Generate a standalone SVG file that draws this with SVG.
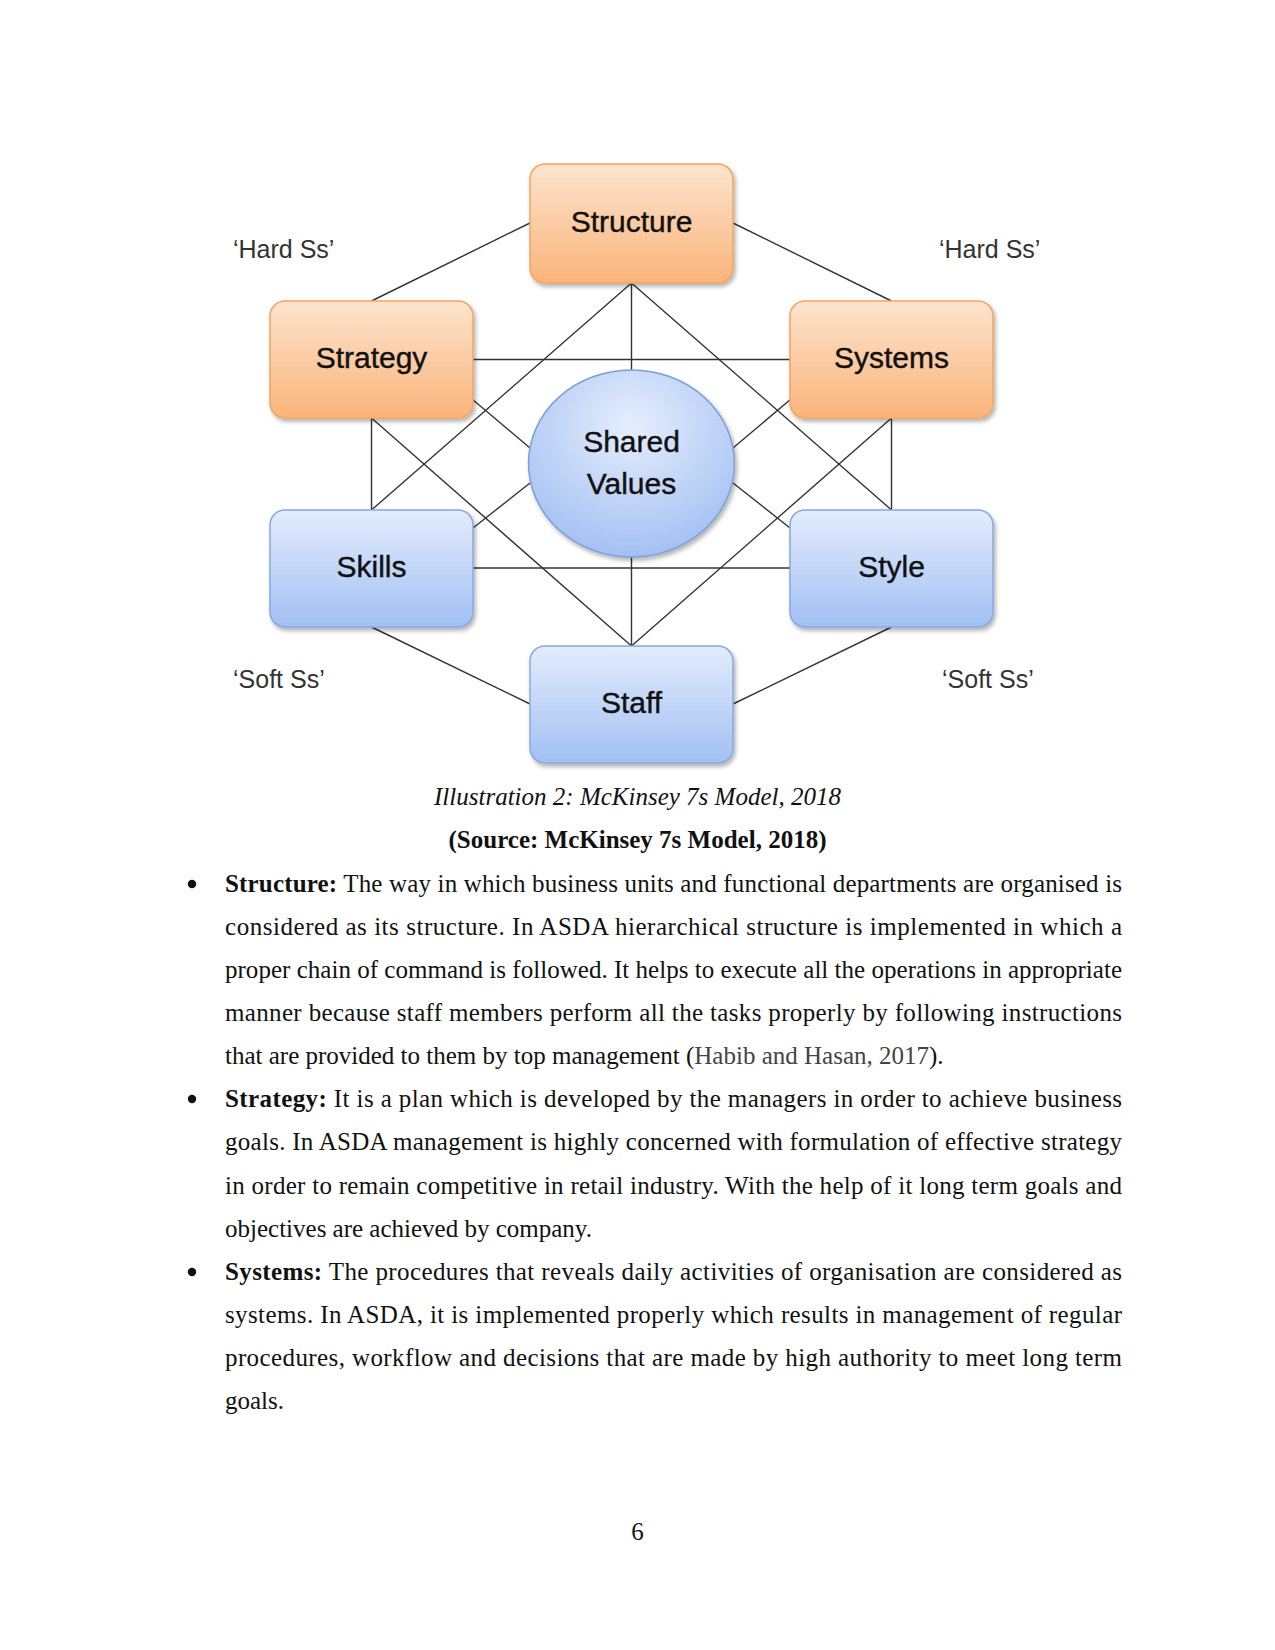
<svg xmlns="http://www.w3.org/2000/svg" width="1275" height="1650" viewBox="0 0 1275 1650">
<defs>
<linearGradient id="gOrange" x1="0" y1="0" x2="0" y2="1">
<stop offset="0" stop-color="#fde4cf"/>
<stop offset="1" stop-color="#fab47a"/>
</linearGradient>
<linearGradient id="gBlue" x1="0" y1="0" x2="0" y2="1">
<stop offset="0" stop-color="#e3ecfc"/>
<stop offset="1" stop-color="#a2c0f4"/>
</linearGradient>
<radialGradient id="gCircle" cx="0.5" cy="0.3" r="0.75">
<stop offset="0" stop-color="#e6eefd"/>
<stop offset="1" stop-color="#9fbdf2"/>
</radialGradient>
<filter id="shadow" x="-10%" y="-10%" width="125%" height="130%">
<feDropShadow dx="2" dy="3" stdDeviation="2" flood-color="#000" flood-opacity="0.3"/>
</filter>
<style>
.conn line { stroke: #333; stroke-width: 1.4; }
.orange { fill: url(#gOrange); stroke: #f4a55e; stroke-width: 1.5; filter: url(#shadow); }
.blue { fill: url(#gBlue); stroke: #86a8e6; stroke-width: 1.5; filter: url(#shadow); }
.lbl { font-family: "Liberation Sans", Arial, sans-serif; font-size: 30px; fill: #111; stroke: #111; stroke-width: 0.4; text-anchor: middle; }
.side { font-family: "Liberation Sans", Arial, sans-serif; font-size: 25px; fill: #333; }
.body { font-family: "Liberation Serif", "Times New Roman", serif; font-size: 25px; fill: #111; }
.b { font-weight: bold; }
</style>
</defs>
<rect width="1275" height="1650" fill="#fff"/>

<g id="connectors" class="conn">
<line x1="472" y1="399" x2="530" y2="448"/>
<line x1="791" y1="399" x2="733" y2="448"/>
<line x1="473" y1="528" x2="530" y2="483"/>
<line x1="790" y1="528" x2="733" y2="483"/>
<line x1="530" y1="223" x2="371.5" y2="301"/>
<line x1="733" y1="223" x2="891.5" y2="301"/>
<line x1="371.5" y1="627" x2="530" y2="704"/>
<line x1="891.5" y1="627" x2="733" y2="704"/>
<line x1="473" y1="359.5" x2="790" y2="359.5"/>
<line x1="473" y1="568" x2="790" y2="568"/>
<line x1="631.5" y1="283" x2="631.5" y2="646"/>
<line x1="371.5" y1="418" x2="371.5" y2="510"/>
<line x1="891.5" y1="418" x2="891.5" y2="510"/>
<line x1="631.5" y1="283" x2="371.5" y2="510"/>
<line x1="631.5" y1="283" x2="891.5" y2="510"/>
<line x1="371.5" y1="418" x2="631.5" y2="646"/>
<line x1="891.5" y1="418" x2="631.5" y2="646"/>
</g>

<g id="structure">
<rect class="orange" x="530" y="164" width="203" height="119" rx="15"/>
<text class="lbl" x="631.5" y="232">Structure</text>
</g>
<g id="strategy">
<rect class="orange" x="270" y="301" width="203" height="117" rx="15"/>
<text class="lbl" x="371.5" y="368">Strategy</text>
</g>
<g id="systems">
<rect class="orange" x="790" y="301" width="203" height="117" rx="15"/>
<text class="lbl" x="891.5" y="368">Systems</text>
</g>
<g id="shared-values">
<ellipse cx="631.5" cy="463.5" rx="103" ry="93.5" fill="url(#gCircle)" stroke="#7f9fd8" stroke-width="1.5" filter="url(#shadow)"/>
<text class="lbl" x="631.5" y="452">Shared</text>
<text class="lbl" x="631.5" y="494">Values</text>
</g>
<g id="skills">
<rect class="blue" x="270" y="510" width="203" height="117" rx="15"/>
<text class="lbl" x="371.5" y="577">Skills</text>
</g>
<g id="style">
<rect class="blue" x="790" y="510" width="203" height="117" rx="15"/>
<text class="lbl" x="891.5" y="577">Style</text>
</g>
<g id="staff">
<rect class="blue" x="530" y="646" width="203" height="117" rx="15"/>
<text class="lbl" x="631.5" y="713">Staff</text>
</g>

<g id="labels">
<text class="side" x="233" y="258">‘Hard Ss’</text>
<text class="side" x="939" y="258">‘Hard Ss’</text>
<text class="side" x="233" y="688">‘Soft Ss’</text>
<text class="side" x="942" y="688">‘Soft Ss’</text>
</g>

<g id="caption">
<text class="body" x="637.5" y="805" text-anchor="middle" font-style="italic">Illustration 2: McKinsey 7s Model, 2018</text>
<text class="body b" x="637.5" y="848" text-anchor="middle">(Source: McKinsey 7s Model, 2018)</text>
</g>

<g id="body-text">
<circle cx="192" cy="884" r="4.2" fill="#111"/>
<circle cx="192" cy="1099" r="4.2" fill="#111"/>
<circle cx="192" cy="1272" r="4.2" fill="#111"/>
<text class="body" x="225" y="892" textLength="897" lengthAdjust="spacing"><tspan class="b">Structure:</tspan> The way in which business units and functional departments are organised is</text>
<text class="body" x="225" y="935" textLength="897" lengthAdjust="spacing">considered as its structure. In ASDA hierarchical structure is implemented in which a</text>
<text class="body" x="225" y="978" textLength="897" lengthAdjust="spacing">proper chain of command is followed. It helps to execute all the operations in appropriate</text>
<text class="body" x="225" y="1021" textLength="897" lengthAdjust="spacing">manner because staff members perform all the tasks properly by following instructions</text>
<text class="body" x="225" y="1064">that are provided to them by top management (<tspan fill="#444">Habib and Hasan, 2017</tspan>).</text>
<text class="body" x="225" y="1107" textLength="897" lengthAdjust="spacing"><tspan class="b">Strategy:</tspan> It is a plan which is developed by the managers in order to achieve business</text>
<text class="body" x="225" y="1150" textLength="897" lengthAdjust="spacing">goals. In ASDA management is highly concerned with formulation of effective strategy</text>
<text class="body" x="225" y="1194" textLength="897" lengthAdjust="spacing">in order to remain competitive in retail industry. With the help of it long term goals and</text>
<text class="body" x="225" y="1237">objectives are achieved by company.</text>
<text class="body" x="225" y="1280" textLength="897" lengthAdjust="spacing"><tspan class="b">Systems:</tspan> The procedures that reveals daily activities of organisation are considered as</text>
<text class="body" x="225" y="1323" textLength="897" lengthAdjust="spacing">systems. In ASDA, it is implemented properly which results in management of regular</text>
<text class="body" x="225" y="1366" textLength="897" lengthAdjust="spacing">procedures, workflow and decisions that are made by high authority to meet long term</text>
<text class="body" x="225" y="1409">goals.</text>
</g>

<g id="page-number">
<text class="body" x="637.5" y="1540" text-anchor="middle">6</text>
</g>
</svg>
